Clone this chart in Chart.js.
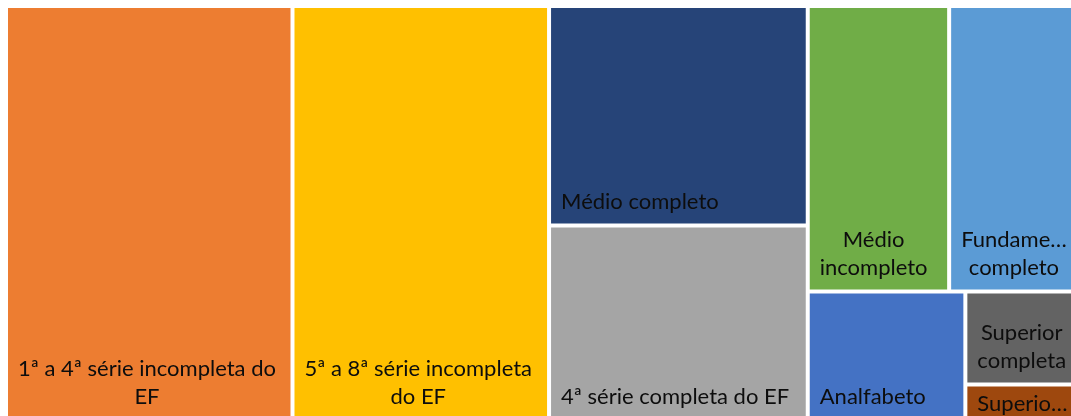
<!DOCTYPE html>
<html>
<head>
<meta charset="utf-8">
<script src="https://cdn.jsdelivr.net/npm/chart.js@4.4.1/dist/chart.umd.min.js"></script>
<style>
  html, body { margin: 0; padding: 0; background: #fff; overflow: hidden; }
  #wrap { width: 1071px; height: 416px; overflow: hidden; }
</style>
</head>
<body>
<div id="wrap"><canvas id="treemap" width="1075" height="421"></canvas></div>
<script>
// escolaridade (% do total)
const categories = [
    '1ª a 4ª série incompleta do EF',
    '5ª a 8ª série incompleta do EF',
    'Médio completo',
    '4ª série completa do EF',
    'Médio incompleto',
    'Fundamental completo',
    'Analfabeto',
    'Superior completa',
    'Superior incompleto'
];
const shares = [26.8, 24.0, 12.8, 11.4, 9.1, 8.1, 4.6, 2.3, 0.9];
const colors = ['#ED7D31', '#FFC000', '#264478', '#A5A5A5', '#70AD47', '#5B9BD5', '#4472C4', '#636363', '#9E480E'];

const FONT = '22px Lato';
const LINE_HEIGHT = 28;
const TOLERANCE = 1.35; // Excel keeps a row a bit longer than plain squarify

function worstRatio(row, side, scale) {
    const thick = row.reduce((a, b) => a + b, 0) * scale / side;
    let worst = 0;
    row.forEach(v => {
        const len = v * scale / thick;
        worst = Math.max(worst, len / thick, thick / len);
    });
    return worst;
}

// squarified layout in a w x h box, returns rects in box units
function squarify(values, w, h) {
    const total = values.reduce((a, b) => a + b, 0);
    const scale = w * h / total;
    const cells = [];
    let rect = { x: 0, y: 0, w, h };
    let i = 0;
    while (i < values.length) {
        const side = Math.min(rect.w, rect.h);
        const row = [values[i]];
        let worst = worstRatio(row, side, scale);
        let j = i + 1;
        while (j < values.length) {
            const next = worstRatio(row.concat(values[j]), side, scale);
            if (next > worst * TOLERANCE) break;
            row.push(values[j]);
            worst = next;
            j++;
        }
        const thick = row.reduce((a, b) => a + b, 0) * scale / side;
        const vertical = rect.w >= rect.h;
        let offset = 0;
        row.forEach(v => {
            const len = v * scale / thick;
            if (vertical) {
                cells.push({ x0: rect.x, x1: rect.x + thick, y0: rect.y + offset, y1: rect.y + offset + len });
            } else {
                cells.push({ x0: rect.x + offset, x1: rect.x + offset + len, y0: rect.y, y1: rect.y + thick });
            }
            offset += len;
        });
        rect = vertical
            ? { x: rect.x + thick, y: rect.y, w: rect.w - thick, h: rect.h }
            : { x: rect.x, y: rect.y + thick, w: rect.w, h: rect.h - thick };
        i = j;
    }
    return cells;
}

class TreemapController extends Chart.DatasetController {
    static id = 'treemap';
    static defaults = { datasetElementType: false, dataElementType: 'bar' };
    static overrides = { scales: { x: { type: 'linear' }, y: { type: 'linear' } } };

    initialize() {
        this.enableOptionSharing = true;
        super.initialize();
    }

    parse() {
        this._cachedMeta._parsed = this.getDataset().data.map(v => ({ v: +v }));
    }

    getMinMax() {
        return { min: 0, max: 100 };
    }

    update(mode) {
        const meta = this._cachedMeta;
        this.updateElements(meta.data, 0, meta.data.length, mode);
    }

    updateElements(rects, start, count, mode) {
        const { xScale, yScale, _parsed } = this._cachedMeta;
        const area = this.chart.chartArea;
        const w = area.right - area.left;
        const h = area.bottom - area.top;
        const cells = squarify(_parsed.map(p => p.v), w, h);
        for (let i = start; i < start + count; i++) {
            const c = cells[i];
            const left = xScale.getPixelForValue(c.x0 / w * 100);
            const right = xScale.getPixelForValue(c.x1 / w * 100);
            const top = yScale.getPixelForValue(c.y0 / h * 100);
            const bottom = yScale.getPixelForValue(c.y1 / h * 100);
            this.updateElement(rects[i], i, {
                x: (left + right) / 2,
                y: top,
                base: bottom,
                width: right - left,
                height: bottom - top,
                horizontal: false,
                inflateAmount: 0,
                enableBorderRadius: false,
                borderSkipped: { top: false, bottom: false, left: false, right: false },
                options: this.resolveDataElementOptions(i, mode)
            }, mode);
        }
    }

    draw() {
        const ctx = this.chart.ctx;
        this._cachedMeta.data.forEach(el => el.draw(ctx));
    }
}
Chart.register(TreemapController);

function fitText(ctx, text, maxWidth) {
    if (ctx.measureText(text).width <= maxWidth) return text;
    let s = text;
    while (s.length > 1 && ctx.measureText(s.trimEnd() + '…').width > maxWidth) s = s.slice(0, -1);
    return s.trimEnd() + '…';
}

function wrapLabel(ctx, text, maxWidth, maxLines) {
    const words = text.split(' ');
    const lines = [];
    let line = '';
    words.forEach(word => {
        const test = line ? line + ' ' + word : word;
        if (line && ctx.measureText(test).width > maxWidth) {
            lines.push(line);
            line = word;
        } else {
            line = test;
        }
    });
    if (line) lines.push(line);
    if (lines.length > maxLines) {
        const rest = lines.splice(maxLines - 1).join(' ');
        lines.push(rest);
    }
    return lines.map(l => fitText(ctx, l, maxWidth));
}

const cellLabels = {
    id: 'cellLabels',
    afterDatasetsDraw(chart) {
        const ctx = chart.ctx;
        const meta = chart.getDatasetMeta(0);
        ctx.save();
        ctx.font = FONT;
        ctx.fillStyle = '#0d0d0d';
        ctx.textBaseline = 'alphabetic';
        meta.data.forEach((el, i) => {
            const { x, y, base, width } = el.getProps(['x', 'y', 'base', 'width']);
            const left = x - width / 2;
            const maxWidth = width - 16;
            const maxLines = Math.max(1, Math.floor((base - y - 10) / LINE_HEIGHT));
            const lines = wrapLabel(ctx, categories[i], maxWidth, maxLines);
            const blockW = Math.max(...lines.map(l => ctx.measureText(l).width));
            let first = base - 17 - (lines.length - 1) * LINE_HEIGHT;
            first = Math.max(first, y + 26);
            lines.forEach((l, k) => {
                const lw = ctx.measureText(l).width;
                ctx.fillText(l, left + 12 + (blockW - lw) / 2, first + k * LINE_HEIGHT);
            });
        });
        ctx.restore();
    }
};

new Chart(document.getElementById('treemap'), {
    type: 'treemap',
    plugins: [cellLabels],
    data: {
        labels: categories,
        datasets: [{
            data: shares,
            backgroundColor: colors,
            borderColor: '#ffffff',
            borderWidth: 2
        }]
    },
    options: {
        responsive: false,
        devicePixelRatio: 1,
        animation: false,
        events: [],
        layout: { padding: { left: 6, top: 6, right: 0, bottom: 0 } },
        plugins: { legend: { display: false }, tooltip: { enabled: false } },
        scales: {
            x: { type: 'linear', display: false, min: 0, max: 100 },
            y: { type: 'linear', display: false, min: 0, max: 100, reverse: true }
        }
    }
});
</script>
</body>
</html>
